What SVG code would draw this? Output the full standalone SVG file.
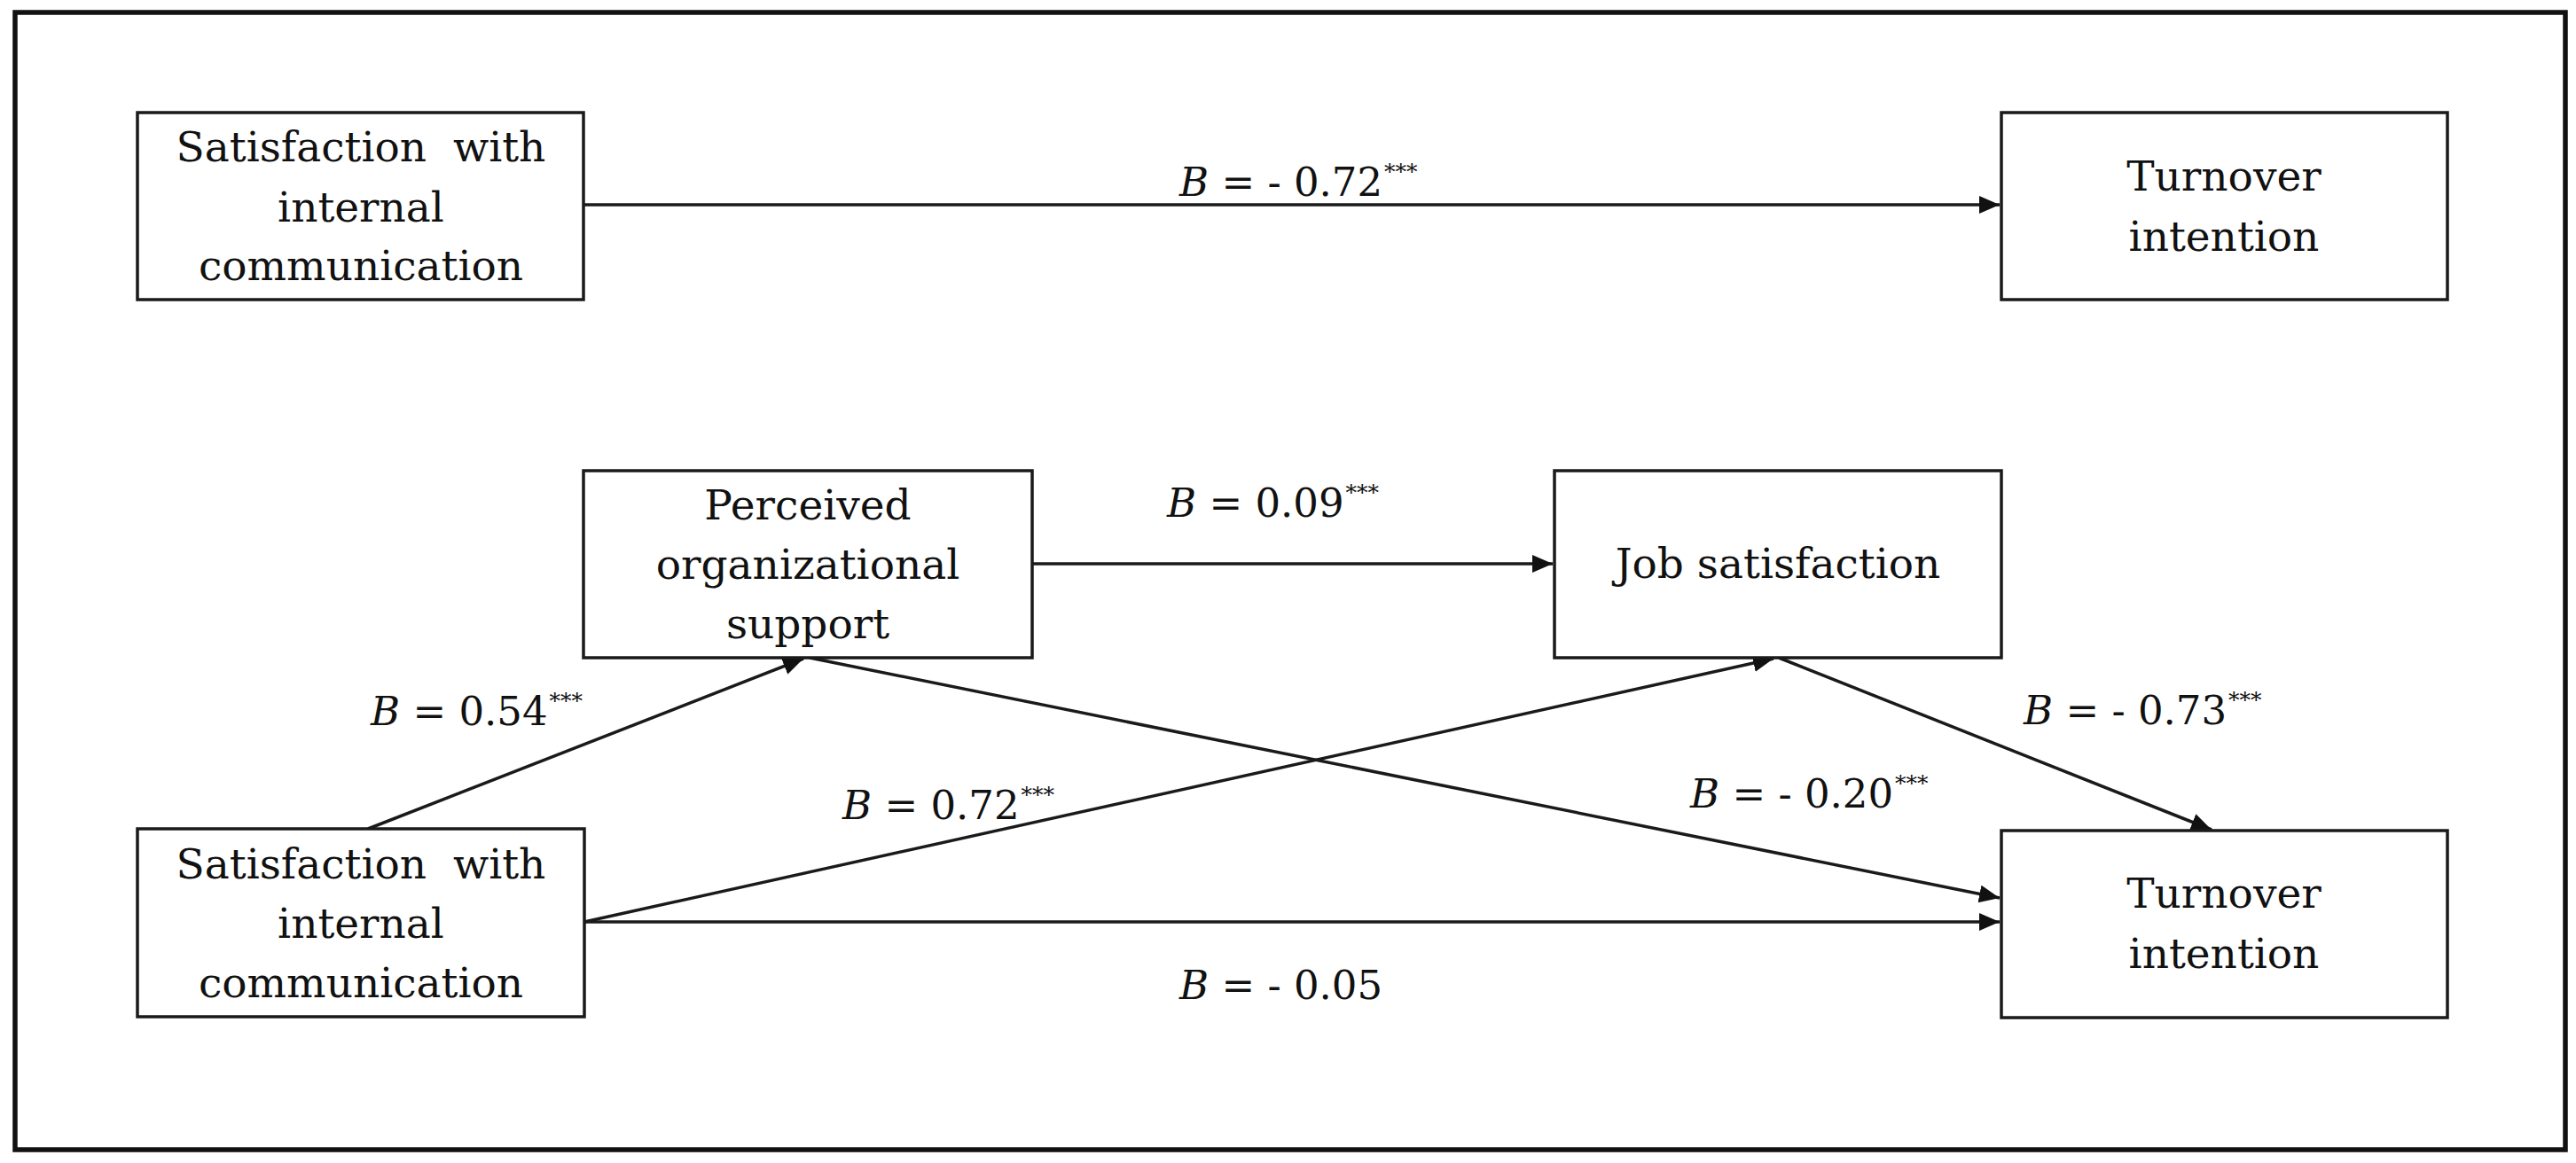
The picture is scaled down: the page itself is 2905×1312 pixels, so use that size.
<svg xmlns="http://www.w3.org/2000/svg" width="2905" height="1312" viewBox="0 0 2905 1312">
  <style>
    .box { fill: #ffffff; stroke: #1a1a1a; stroke-width: 3.5; }
    .frame { fill: none; stroke: #111111; stroke-width: 5.5; }
    .t { font-family: "DejaVu Serif", "Liberation Serif", serif; font-size: 47px; fill: #111111; text-anchor: middle; }
    .lbl { font-family: "DejaVu Serif", "Liberation Serif", serif; font-size: 45px; fill: #111111; }
    .it { font-style: italic; }
    .sup { font-size: 25px; }
    .conn line { stroke: #1a1a1a; stroke-width: 3.5; fill: none; }
  </style>
  <defs>
    <marker id="arrow" markerUnits="userSpaceOnUse" markerWidth="26" markerHeight="22" refX="23" refY="10" orient="auto">
      <path d="M0,0 L23,10 L0,20 Z" fill="#111111"/>
    </marker>
  </defs>
  <rect width="2905" height="1312" fill="#ffffff"/>
  <rect class="frame" x="17" y="14" width="2876" height="1283"/>

  <g id="connectors" class="conn">
    <line x1="658" y1="231" x2="2255" y2="231" marker-end="url(#arrow)"/>
    <line x1="1164" y1="636" x2="1751" y2="636" marker-end="url(#arrow)"/>
    <line x1="415" y1="935" x2="906" y2="743" marker-end="url(#arrow)"/>
    <line x1="913" y1="742" x2="2255" y2="1013" marker-end="url(#arrow)"/>
    <line x1="659" y1="1040" x2="2000" y2="743" marker-end="url(#arrow)"/>
    <line x1="2006" y1="742" x2="2494" y2="936" marker-end="url(#arrow)"/>
    <line x1="659" y1="1040" x2="2255" y2="1040" marker-end="url(#arrow)"/>
  </g>

  <g id="node-satisfaction-top">
    <rect class="box" x="155" y="127" width="503" height="211"/>
    <text class="t" x="407" y="182">Satisfaction&#160; with</text>
    <text class="t" x="407" y="250">internal</text>
    <text class="t" x="407" y="316">communication</text>
  </g>

  <g id="node-turnover-top">
    <rect class="box" x="2257" y="127" width="503" height="211"/>
    <text class="t" x="2508" y="215">Turnover</text>
    <text class="t" x="2508" y="283">intention</text>
  </g>

  <g id="node-pos">
    <rect class="box" x="658" y="531" width="506" height="211"/>
    <text class="t" x="911" y="586">Perceived</text>
    <text class="t" x="911" y="653">organizational</text>
    <text class="t" x="911" y="720">support</text>
  </g>

  <g id="node-job">
    <rect class="box" x="1753" y="531" width="504" height="211"/>
    <text class="t" x="2005" y="652">Job satisfaction</text>
  </g>

  <g id="node-satisfaction-bottom">
    <rect class="box" x="155" y="935" width="504" height="212"/>
    <text class="t" x="407" y="991">Satisfaction&#160; with</text>
    <text class="t" x="407" y="1058">internal</text>
    <text class="t" x="407" y="1125">communication</text>
  </g>

  <g id="node-turnover-bottom">
    <rect class="box" x="2257" y="937" width="503" height="211"/>
    <text class="t" x="2508" y="1024">Turnover</text>
    <text class="t" x="2508" y="1092">intention</text>
  </g>

  <g id="labels">
    <text class="lbl" x="1330" y="221"><tspan class="it">B</tspan> = - 0.72<tspan class="sup" dx="2" dy="-19">***</tspan></text>
    <text class="lbl" x="1316" y="583"><tspan class="it">B</tspan> = 0.09<tspan class="sup" dx="2" dy="-19">***</tspan></text>
    <text class="lbl" x="418" y="818"><tspan class="it">B</tspan> = 0.54<tspan class="sup" dx="2" dy="-19">***</tspan></text>
    <text class="lbl" x="950" y="924"><tspan class="it">B</tspan> = 0.72<tspan class="sup" dx="2" dy="-19">***</tspan></text>
    <text class="lbl" x="1906" y="911"><tspan class="it">B</tspan> = - 0.20<tspan class="sup" dx="2" dy="-19">***</tspan></text>
    <text class="lbl" x="2282" y="817"><tspan class="it">B</tspan> = - 0.73<tspan class="sup" dx="2" dy="-19">***</tspan></text>
    <text class="lbl" x="1330" y="1127"><tspan class="it">B</tspan> = - 0.05</text>
  </g>
</svg>
